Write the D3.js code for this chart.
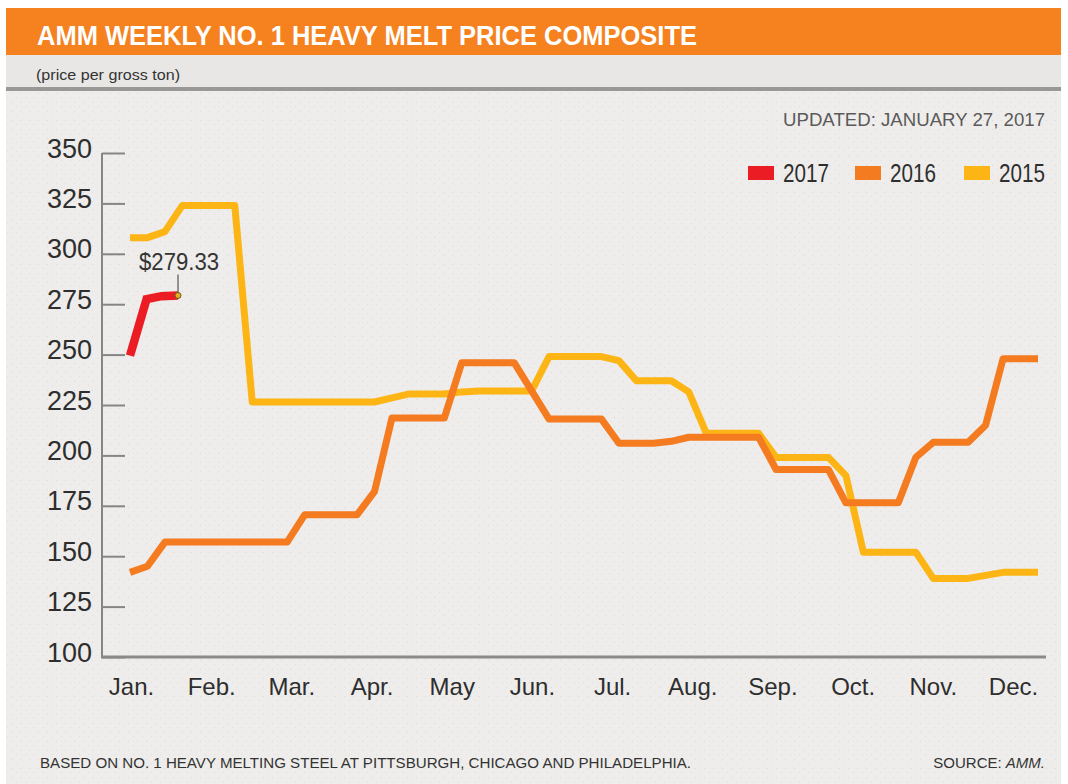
<!DOCTYPE html>
<html>
<head>
<meta charset="utf-8">
<script src="https://cdn.jsdelivr.net/npm/d3@7"></script>
<style>
  body { margin: 0; background: #ffffff; }
  svg text { font-family: "Liberation Sans Narrow", "Arial Narrow", "Liberation Sans", Arial, sans-serif; }
</style>
</head>
<body>
<div id="chart"></div>
<script>
// chart data (weekly composite, $ per gross ton)
var months = ["Jan.", "Feb.", "Mar.", "Apr.", "May", "Jun.", "Jul.", "Aug.", "Sep.", "Oct.", "Nov.", "Dec."];
var yTicks = [100, 125, 150, 175, 200, 225, 250, 275, 300, 325, 350];

var price2015 = [308, 308, 311, 324, 324, 324, 324, 226.5, 226.5, 226.5,
    226.5, 226.5, 226.5, 226.5, 226.5, 228.5, 230.5, 230.5, 230.5, 231.5,
    232, 232, 232, 232, 249, 249, 249, 249, 247, 237,
    237, 237, 231.5, 211, 211, 211, 211, 199, 199, 199,
    199, 190, 152, 152, 152, 152, 139, 139, 139, 140.5,
    142, 142, 142];

var price2016 = [142, 145, 157, 157, 157, 157, 157, 157, 157, 157,
    170.5, 170.5, 170.5, 170.5, 182, 218.5, 218.5, 218.5, 218.5, 246,
    246, 246, 246, 232, 218, 218, 218, 218, 206, 206,
    206, 207, 209, 209, 209, 209, 209, 193, 193, 193,
    193, 176.5, 176.5, 176.5, 176.5, 199, 206.5, 206.5, 206.5, 215,
    248, 248, 248];

var weeks2017 = [0, 0.95, 1.8, 2.75];
var price2017 = [249.5, 277.5, 279, 279.33];

var legendYears = ["2017", "2016", "2015"];
var colors = { "2017": "#ec1c24", "2016": "#f47b20", "2015": "#fdb515" };

// svg wrapper
var svgWidth = 1068;
var svgHeight = 784;

var svg = d3.select("#chart")
    .append("svg")
    .attr("width", svgWidth)
    .attr("height", svgHeight);

// faint stipple texture for the panel
var defs = svg.append("defs");
var pat = defs.append("pattern")
    .attr("id", "stipple")
    .attr("width", 9)
    .attr("height", 9)
    .attr("patternUnits", "userSpaceOnUse");
pat.append("rect").attr("width", 9).attr("height", 9).attr("fill", "#eeedeb");
pat.append("rect").attr("x", 2).attr("y", 3).attr("width", 1).attr("height", 1).attr("fill", "#dcdad7");
pat.append("rect").attr("x", 7).attr("y", 7).attr("width", 1).attr("height", 1).attr("fill", "#e2e0dd");

// panel background
svg.append("rect")
    .attr("x", 6).attr("y", 8)
    .attr("width", 1055).attr("height", svgHeight - 8)
    .attr("fill", "url(#stipple)");

// orange header band
svg.append("rect")
    .attr("x", 6).attr("y", 8)
    .attr("width", 1055).attr("height", 47)
    .attr("fill", "#f5821f");

svg.append("text")
    .attr("x", 37)
    .attr("y", 45)
    .attr("fill", "#ffffff")
    .attr("font-size", 27)
    .attr("font-weight", "bold")
    .attr("textLength", 660)
    .attr("lengthAdjust", "spacingAndGlyphs")
    .text("AMM WEEKLY NO. 1 HEAVY MELT PRICE COMPOSITE");

// sub header row
svg.append("rect")
    .attr("x", 6).attr("y", 55)
    .attr("width", 1055).attr("height", 33)
    .attr("fill", "#e8e7e5");

svg.append("text")
    .attr("x", 36)
    .attr("y", 80)
    .attr("fill", "#333")
    .attr("font-size", 14)
    .attr("textLength", 144)
    .attr("lengthAdjust", "spacingAndGlyphs")
    .text("(price per gross ton)");

svg.append("rect")
    .attr("x", 6).attr("y", 87)
    .attr("width", 1055).attr("height", 4)
    .attr("fill", "#9a9896");

svg.append("text")
    .attr("x", 783)
    .attr("y", 126)
    .attr("fill", "#5a5a5a")
    .attr("font-size", 19)
    .attr("textLength", 262)
    .attr("lengthAdjust", "spacingAndGlyphs")
    .text("UPDATED: JANUARY 27, 2017");

// scales
var xScale = d3.scaleLinear()
    .domain([0, price2015.length - 1])
    .range([130, 1038]);

var monthScale = d3.scalePoint()
    .domain(months)
    .range([131, 1013]);

var yScale = d3.scaleLinear()
    .domain([100, 350])
    .range([657, 153]);

// y axis
var leftAxis = d3.axisRight(yScale)
    .tickValues(yTicks)
    .tickSize(23)
    .tickFormat(d3.format("d"));

var yAxis = svg.append("g")
    .attr("transform", "translate(102, 0)")
    .call(leftAxis);

yAxis.select(".domain").remove();
yAxis.selectAll("line").attr("stroke", "#858585").attr("stroke-width", 2);
yAxis.selectAll("text")
    .attr("x", -10)
    .attr("dy", "0.15em")
    .attr("text-anchor", "end")
    .attr("fill", "#2e2e2e")
    .attr("font-size", 27)
    .attr("font-family", null);

svg.append("line")
    .attr("x1", 102).attr("x2", 102)
    .attr("y1", yScale(350)).attr("y2", yScale(100))
    .attr("stroke", "#858585")
    .attr("stroke-width", 2);

// x axis with month labels
var bottomAxis = d3.axisBottom(monthScale).tickSize(0).tickPadding(21);

var xAxis = svg.append("g")
    .attr("transform", "translate(0, " + yScale(100) + ")")
    .call(bottomAxis);

xAxis.select(".domain").remove();
xAxis.selectAll("text")
    .attr("fill", "#2e2e2e")
    .attr("font-size", 24)
    .attr("font-family", null);

svg.append("line")
    .attr("x1", 101).attr("x2", 1046)
    .attr("y1", yScale(100)).attr("y2", yScale(100))
    .attr("stroke", "#8a8a8a")
    .attr("stroke-width", 3);

// lines
var line = d3.line()
    .x(d => xScale(d[0]))
    .y(d => yScale(d[1]));

function pairs(values, xs) {
    return values.map((v, i) => [xs ? xs[i] : i, v]);
}

svg.append("path")
    .datum(pairs(price2015))
    .attr("fill", "none")
    .attr("stroke", colors["2015"])
    .attr("stroke-width", 7)
    .attr("stroke-linejoin", "round")
    .attr("d", line);

svg.append("path")
    .datum(pairs(price2016))
    .attr("fill", "none")
    .attr("stroke", colors["2016"])
    .attr("stroke-width", 7)
    .attr("stroke-linejoin", "round")
    .attr("d", line);

var data2017 = pairs(price2017, weeks2017);

svg.append("path")
    .datum(data2017)
    .attr("fill", "none")
    .attr("stroke", colors["2017"])
    .attr("stroke-width", 8.5)
    .attr("stroke-linejoin", "miter")
    .attr("d", line);

// last value callout
var last = data2017[data2017.length - 1];
var lx = xScale(last[0]);
var ly = yScale(last[1]);

svg.append("line")
    .attr("x1", lx).attr("x2", lx)
    .attr("y1", ly - 3).attr("y2", ly - 21)
    .attr("stroke", "#555")
    .attr("stroke-width", 1.2);

svg.append("circle")
    .attr("cx", lx).attr("cy", ly)
    .attr("r", 3)
    .attr("fill", "#e3b020")
    .attr("stroke", "#6b5a20")
    .attr("stroke-width", 1);

svg.append("text")
    .attr("x", lx + 1)
    .attr("y", ly - 25)
    .attr("text-anchor", "middle")
    .attr("fill", "#333")
    .attr("font-size", 23)
    .attr("textLength", 80)
    .attr("lengthAdjust", "spacingAndGlyphs")
    .text("$" + d3.format(".2f")(last[1]));

// legend
var legendX = [748, 855, 964];
var legend = svg.append("g");

legendYears.forEach(function(yr, i) {
    legend.append("rect")
        .attr("x", legendX[i])
        .attr("y", 166)
        .attr("width", 26)
        .attr("height", 14)
        .attr("fill", colors[yr]);
    legend.append("text")
        .attr("x", legendX[i] + 35)
        .attr("y", 182)
        .attr("fill", "#2e2e2e")
        .attr("font-size", 26)
        .attr("textLength", 46)
        .attr("lengthAdjust", "spacingAndGlyphs")
        .text(yr);
});

// footer
svg.append("text")
    .attr("x", 40)
    .attr("y", 768)
    .attr("fill", "#333")
    .attr("font-size", 15)
    .attr("textLength", 651)
    .attr("lengthAdjust", "spacingAndGlyphs")
    .text("BASED ON NO. 1 HEAVY MELTING STEEL AT PITTSBURGH, CHICAGO AND PHILADELPHIA.");

var src = svg.append("text")
    .attr("x", 1045)
    .attr("y", 768)
    .attr("text-anchor", "end")
    .attr("fill", "#333")
    .attr("font-size", 15);
src.append("tspan").text("SOURCE: ");
src.append("tspan").attr("font-style", "italic").text("AMM.");
</script>
</body>
</html>
